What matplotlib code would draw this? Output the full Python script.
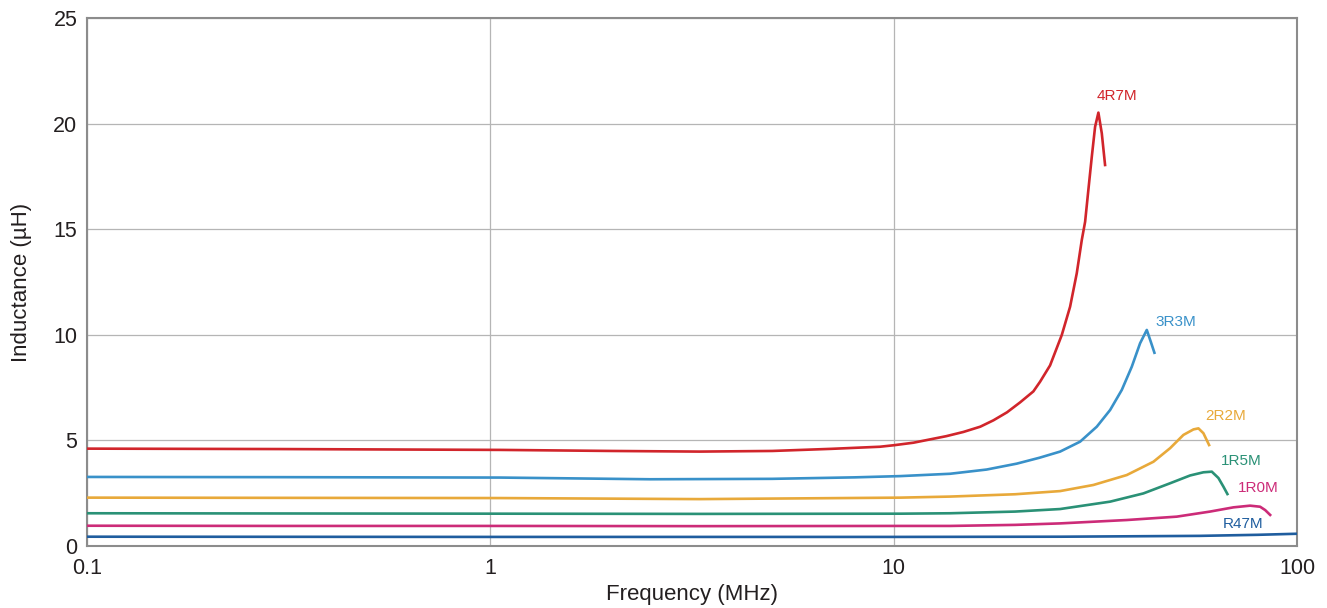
import numpy as np
import matplotlib.pyplot as plt
from matplotlib.ticker import FixedLocator, FixedFormatter, NullLocator

plt.rcParams['font.family'] = ['Liberation Sans', 'DejaVu Sans']

# values (frequency in MHz, inductance in uH)
f_4r7 = [0.1, 0.3, 1.06, 2.0, 3.3, 5.0, 7.0, 9.25, 10.0, 11.19, 13.5, 14.89, 16.4, 17.67,
         19.1, 20.58, 22.2, 23.07, 24.42, 26.11, 27.38, 28.44, 29.27, 29.83, 30.39, 30.99,
         31.58, 32.18, 32.81, 33.43]
L_4r7 = [4.61, 4.59, 4.55, 4.50, 4.47, 4.50, 4.60, 4.70, 4.77, 4.89, 5.20, 5.40, 5.65, 5.95,
         6.33, 6.80, 7.32, 7.78, 8.55, 9.99, 11.33, 12.91, 14.49, 15.35, 16.86, 18.43,
         19.85, 20.52, 19.54, 18.04]

f_3r3 = [0.1, 0.3, 1.06, 2.49, 5.0, 8.0, 10.4, 13.8, 17.0, 20.2, 23.0, 25.86, 28.99, 31.89,
         34.41, 36.78, 38.94, 40.83, 42.42, 43.4, 44.31]
L_3r3 = [3.27, 3.26, 3.24, 3.16, 3.18, 3.25, 3.31, 3.42, 3.62, 3.90, 4.18, 4.47, 4.94, 5.65,
         6.44, 7.39, 8.49, 9.60, 10.23, 9.67, 9.15]

f_2r2 = [0.1, 0.3, 1.06, 3.3, 10.4, 13.8, 20.0, 25.86, 31.28, 37.84, 44.06, 48.45, 52.29,
         55.37, 56.97, 58.61, 60.54]
L_2r2 = [2.29, 2.28, 2.27, 2.22, 2.29, 2.34, 2.45, 2.60, 2.89, 3.36, 3.99, 4.63, 5.26,
         5.52, 5.57, 5.34, 4.78]

f_1r5 = [0.1, 0.3, 1.06, 3.3, 10.4, 13.8, 20.0, 25.86, 34.41, 41.61, 48.45, 54.33, 58.61,
         61.48, 63.85, 65.7, 67.22]
L_1r5 = [1.55, 1.54, 1.53, 1.52, 1.53, 1.55, 1.63, 1.75, 2.10, 2.49, 2.97, 3.34, 3.49,
         3.52, 3.22, 2.81, 2.46]

f_1r0 = [0.1, 0.3, 1.06, 3.3, 10.4, 13.8, 20.0, 25.86, 37.84, 50.34, 60.87, 69.56, 76.5,
         81.0, 83.4, 85.8]
L_1r0 = [0.96, 0.95, 0.95, 0.94, 0.95, 0.95, 1.00, 1.07, 1.23, 1.39, 1.63, 1.83, 1.91,
         1.86, 1.70, 1.47]

f_r47 = [0.1, 1.0, 10.0, 26.0, 57.4, 80.0, 100.0]
L_r47 = [0.44, 0.43, 0.43, 0.44, 0.48, 0.53, 0.58]

names = ['4R7M', '3R3M', '2R2M', '1R5M', '1R0M', 'R47M']
colors = ['#d1252b', '#3991c9', '#e8a93a', '#2a9176', '#cc2b78', '#1f5d9e']
label_f = [35.8, 50.1, 66.7, 72.7, 80.1, 73.5]
label_L = [21.3, 10.6, 6.16, 4.02, 2.75, 1.04]

x_ticks = [0.1, 1, 10, 100]
x_tick_labels = ['0.1', '1', '10', '100']
y_ticks = [0, 5, 10, 15, 20, 25]

series = [(f_4r7, L_4r7), (f_3r3, L_3r3), (f_2r2, L_2r2),
          (f_1r5, L_1r5), (f_1r0, L_1r0), (f_r47, L_r47)]

fig = plt.figure(figsize=(13.27, 6.08), dpi=100)
ax = fig.add_axes([87/1327, 62/608, 1210/1327, 528/608])

for (f, L), c in zip(series, colors):
    ax.plot(f, L, color=c, lw=1.9, solid_joinstyle='round', zorder=3)

for name, c, xf, yl in zip(names, colors, label_f, label_L):
    ax.text(xf, yl, name, color=c, fontsize=11, ha='center', va='center')

ax.set_xscale('log')
ax.set_xlim(0.1, 100)
ax.set_ylim(0, 25)
ax.xaxis.set_major_locator(FixedLocator(x_ticks))
ax.xaxis.set_major_formatter(FixedFormatter(x_tick_labels))
ax.xaxis.set_minor_locator(NullLocator())
ax.set_yticks(y_ticks)

ax.grid(True, color='#b5b5b5', lw=0.9, zorder=0)
ax.set_axisbelow(True)
for s in ax.spines.values():
    s.set_color('#8c8c8c')
    s.set_linewidth(1.5)

ax.tick_params(axis='both', length=0, labelsize=15.5, colors='#231f20')
ax.tick_params(axis='x', pad=9)
ax.tick_params(axis='y', pad=7)

ax.set_xlabel('Frequency (MHz)', fontsize=16, color='#231f20', labelpad=3)
ax.set_ylabel('Inductance (\u00b5H)', fontsize=16, color='#231f20', labelpad=15)

fig.savefig('out.png', dpi=100)
